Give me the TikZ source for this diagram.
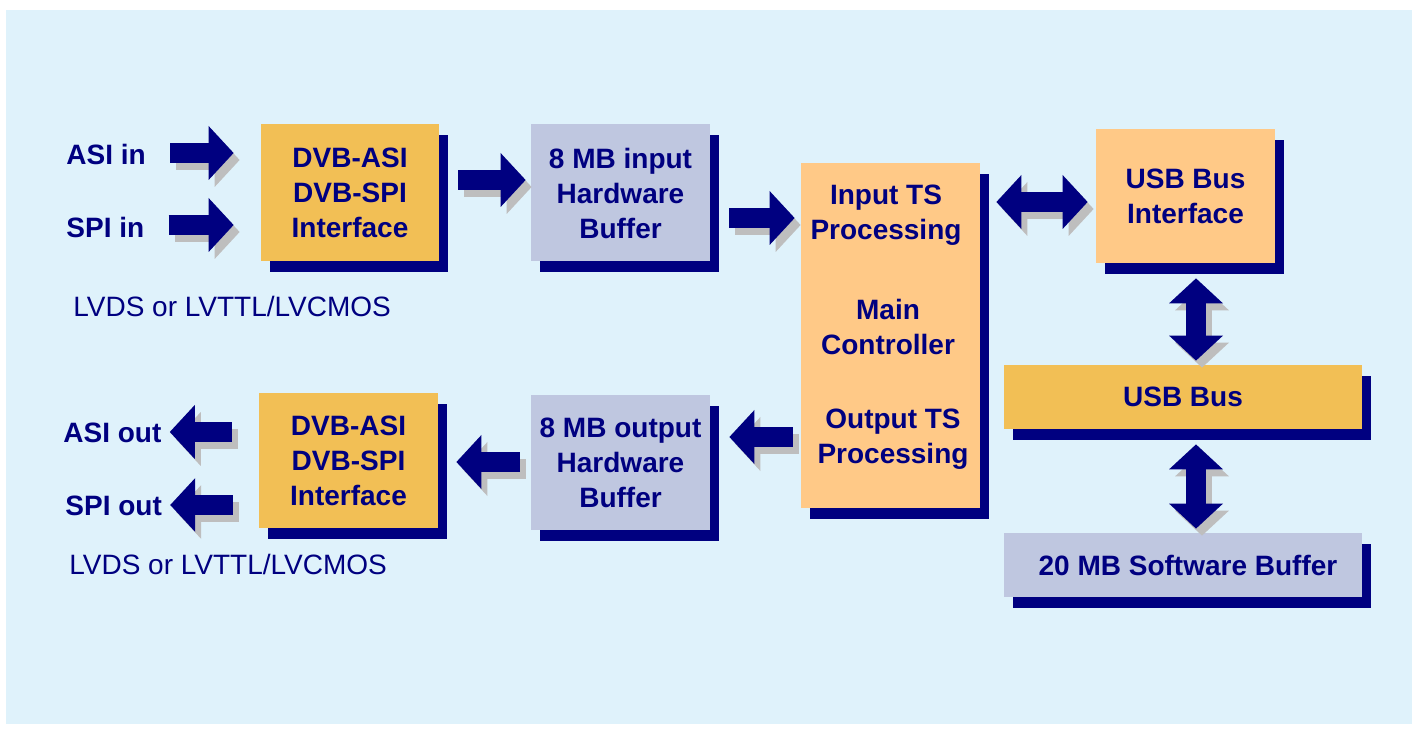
\documentclass[tikz,border=0pt]{standalone}
\usepackage{fontspec}
\setmainfont{Liberation Sans}
\usetikzlibrary{arrows.meta,shadows}
\definecolor{bgblue}{RGB}{223,242,251}
\definecolor{gold}{RGB}{242,191,85}
\definecolor{peach}{RGB}{255,201,135}
\definecolor{lavender}{RGB}{191,199,224}
\definecolor{navy}{RGB}{0,0,128}
\definecolor{shade}{RGB}{190,190,190}

\begin{document}
\begin{tikzpicture}[x=0.5pt,y=-0.5pt,>={Triangle[length=12.5pt,width=27pt,line width=0pt]},
  box/.style={inner sep=0pt,align=center,text=navy,font=\bfseries\fontsize{14}{17.5}\selectfont,
    drop shadow={shadow xshift=4.25pt,shadow yshift=-5.5pt,fill=navy,opacity=1}},
  txt/.style={inner sep=0pt,align=center,text=navy,font=\bfseries\fontsize{14}{17.5}\selectfont},
  note/.style={inner sep=0pt,anchor=west,text=navy,font=\fontsize{14}{17.5}\selectfont},
  fat/.style={line width=10pt}]
\useasboundingbox (0,0) rectangle (1417,731);
\fill[white] (0,0) rectangle (1417,731);
\fill[bgblue] (6,10) rectangle (1412,724);

\node[box,fill=gold,minimum width=89pt,minimum height=68.5pt] (dvbin) at (350,192.5) {DVB-ASI\\DVB-SPI\\Interface};
\node[box,fill=lavender,minimum width=89.5pt,minimum height=68.5pt] (bufin) at (620.5,193) {8 MB input\\Hardware\\Buffer};
\node[box,fill=peach,minimum width=89.5pt,minimum height=172.5pt] (main) at (890.5,335.5) {};
\node[box,fill=peach,minimum width=89.5pt,minimum height=67pt] (usbif) at (1185.5,196) {USB Bus\\Interface};
\node[box,fill=gold,minimum width=179pt,minimum height=32pt] (usbbus) at (1183,397) {USB Bus};
\node[box,fill=lavender,minimum width=179pt,minimum height=32pt] (swbuf) at (1183,565) {\hspace{5pt}20 MB Software Buffer};
\node[box,fill=gold,minimum width=89.5pt,minimum height=67.5pt] (dvbout) at (348.5,460.5) {DVB-ASI\\DVB-SPI\\Interface};
\node[box,fill=lavender,minimum width=89.5pt,minimum height=67.5pt] (bufout) at (620.5,462.5) {8 MB output\\Hardware\\Buffer};

\node[txt] (mainin) at (886,215) {Input TS\\Processing};
\node[txt] (mainctl) at (888,327) {Main\\Controller};
\node[txt] (mainout) at (893,439) {Output TS\\Processing};

\node[txt,anchor=west] (asiin) at (66,154) {ASI in};
\node[txt,anchor=west] (spiin) at (66,227) {SPI in};
\node[txt,anchor=west] (asiout) at (63,433) {ASI out};
\node[txt,anchor=west] (spiout) at (65,506) {SPI out};
\node[note] (lvdsin) at (73,306) {LVDS or LVTTL/LVCMOS};
\node[note] (lvdsout) at (69,564) {LVDS or LVTTL/LVCMOS};

\foreach \c/\dx/\dy in {shade/3pt/-3.5pt,navy/0pt/0pt}{
\begin{scope}[transform canvas={xshift=\dx,yshift=\dy},color=\c]
\draw[fat,->,shorten <=12pt,shorten >=13.5pt] (asiin.east |- 0,153) -- (dvbin.west |- 0,153);
\draw[fat,->,shorten <=12pt,shorten >=13.5pt] (spiin.east |- 0,225) -- (dvbin.west |- 0,225);
\draw[fat,->,shorten <=9.5pt,shorten >=2.5pt] (dvbin.east |- 0,180) -- (bufin.west |- 0,180);
\draw[fat,->,shorten <=9.5pt,shorten >=3pt] (bufin.east |- 0,218) -- (main.west |- 0,218);
\draw[fat,<->,shorten <=8pt,shorten >=4pt] (main.east |- 0,202) -- (usbif.west |- 0,202);
\draw[fat,<->,shorten <=7.5pt,shorten >=2pt] (usbif.south -| 1196,0) -- (usbbus.north -| 1196,0);
\draw[fat,<->,shorten <=7.5pt,shorten >=2pt] (usbbus.south -| 1196,0) -- (swbuf.north -| 1196,0);
\draw[fat,->,shorten <=4pt,shorten >=9.5pt] (main.west |- 0,437) -- (bufout.east |- 0,437);
\draw[fat,->,shorten <=5.5pt,shorten >=9pt] (bufout.west |- 0,462) -- (dvbout.east |- 0,462);
\draw[fat,->,shorten <=13.5pt,shorten >=4pt] (dvbout.west |- 0,432) -- (asiout.east |- 0,432);
\draw[fat,->,shorten <=13pt,shorten >=4pt] (dvbout.west |- 0,505) -- (spiout.east |- 0,505);
\end{scope}
}
\end{tikzpicture}
\end{document}
